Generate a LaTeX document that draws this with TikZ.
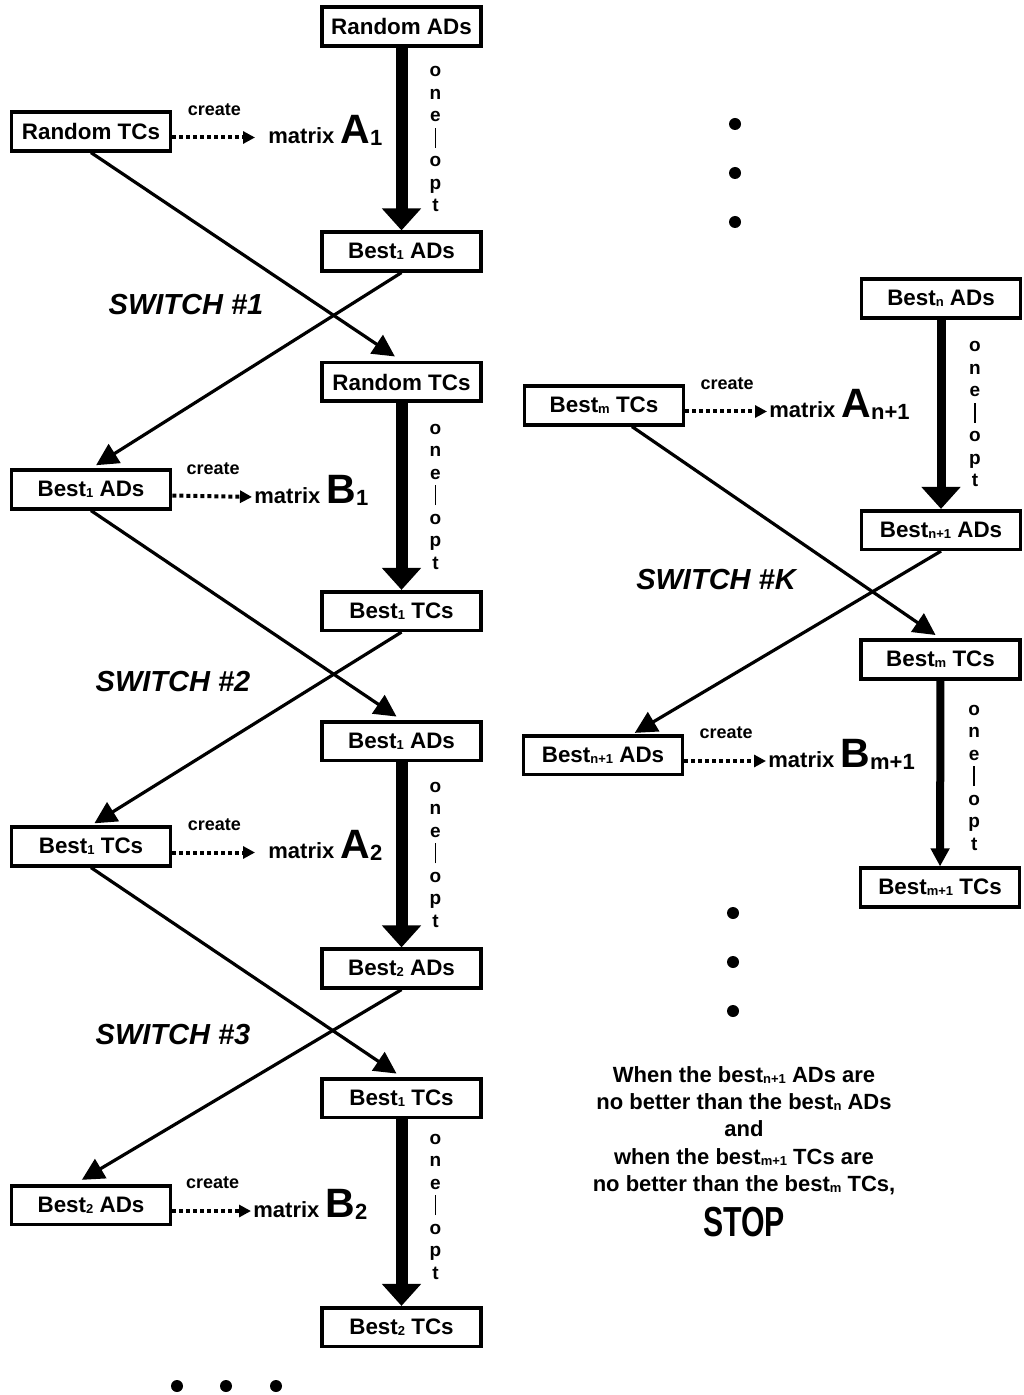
\documentclass[tikz,border=0pt]{standalone}
\usepackage{fontspec}
\setmainfont{Liberation Sans}
\usepackage{graphicx}
\usepackage{tikz}
\usetikzlibrary{arrows.meta}

\newcommand\lowsub[1]{\raisebox{-0.6pt}{\fontsize{6.5}{6.5}\selectfont #1}}
\newcommand\bigmat[2]{matrix {\fontsize{20.5}{20.5}\selectfont #1}\raisebox{-1.2pt}{\fontsize{11}{11}\selectfont #2}}
\newcommand\oneopt{o\\n\\e\\\rule[-1.75pt]{0.8pt}{10pt}\\o\\p\\t}

\begin{document}
\begin{tikzpicture}[x=0.5pt,y=-0.5pt,
  box/.style={draw=black,line width=1.8pt,fill=white,minimum width=79.5pt,minimum height=19.3pt,
              inner sep=0pt,font=\fontsize{11.2}{13}\selectfont\bfseries},
  opt/.style={-{Triangle[length=11pt,width=19pt]},line width=6pt,draw=black},
  diag/.style={-{Triangle[length=11pt,width=11pt]},line width=1.6pt,draw=black},
  dotarr/.style={-{Triangle[length=6pt,width=6pt]},line width=2pt,dash pattern=on 2pt off 1.5pt,shorten >=1pt},
  create/.style={font=\fontsize{9}{9}\selectfont\bfseries,inner sep=0pt},
  mat/.style={font=\fontsize{11}{13}\selectfont\bfseries,inner sep=0pt,anchor=base west},
  onelbl/.style={font=\fontsize{9.5}{11.25}\selectfont\bfseries,align=center,inner sep=0pt},
  switch/.style={font=\fontsize{14.5}{16}\selectfont\bfseries\itshape,inner sep=0pt}
]
\useasboundingbox (0,0) rectangle (1023,1395);

% left chain
\node[box] (ad0) at (401.5,26.5) {Random ADs};
\node[box] (tc0) at (91,131.5) {Random TCs};
\node[box] (ad1) at (401.5,251.5) {Best\lowsub{1} ADs};
\node[box] (tc1) at (401.5,382) {Random TCs};
\node[box] (ad1l) at (91,489.5) {Best\lowsub{1} ADs};
\node[box] (tc2) at (401.5,611) {Best\lowsub{1} TCs};
\node[box] (ad2) at (401.5,741) {Best\lowsub{1} ADs};
\node[box] (tc2l) at (91,846.5) {Best\lowsub{1} TCs};
\node[box] (ad3) at (401.5,968.5) {Best\lowsub{2} ADs};
\node[box] (tc3) at (401.5,1098) {Best\lowsub{1} TCs};
\node[box] (ad3l) at (91,1205) {Best\lowsub{2} ADs};
\node[box] (tc4) at (401.5,1327) {Best\lowsub{2} TCs};

% right chain
\node[box] (adn) at (941,298.5) {Best\lowsub{n} ADs};
\node[box] (tcm) at (604,405.5) {Best\lowsub{m} TCs};
\node[box] (adn1) at (941,530) {Best\lowsub{n+1} ADs};
\node[box] (tcm2) at (940.5,659.5) {Best\lowsub{m} TCs};
\node[box] (adn1l) at (603,755) {Best\lowsub{n+1} ADs};
\node[box] (tcm1) at (940,887.5) {Best\lowsub{m+1} TCs};

% matrices
\node[mat] (mA1) at (268,143.5) {\bigmat{A}{1}};
\node[mat] (mB1) at (254,503) {\bigmat{B}{1}};
\node[mat] (mA2) at (268,858.5) {\bigmat{A}{2}};
\node[mat] (mB2) at (253,1217) {\bigmat{B}{2}};
\node[mat] (mAn) at (769,417.5) {\bigmat{A}{n+1}};
\node[mat] (mBm) at (768,767) {\bigmat{B}{m+1}};

\node[switch] (sw1) at (186,305) {SWITCH \#1};
\node[switch] (sw2) at (173,682) {SWITCH \#2};
\node[switch] (sw3) at (173,1035) {SWITCH \#3};
\node[switch] (swk) at (716,580) {SWITCH \#K};

\node[font=\fontsize{11}{13.65}\selectfont\bfseries,align=center,inner sep=0pt,anchor=north] (stop) at (744,1066)
  {When the best\lowsub{n+1} ADs are\\no better than the best\lowsub{n} ADs\\and\\
   when the best\lowsub{m+1} TCs are\\no better than the best\lowsub{m} TCs,\\[5pt]
   \scalebox{0.72}[1]{\fontsize{21}{21}\selectfont STOP}};

% one-opt steps
\draw[opt] (ad0) -- (ad1) node[onelbl,midway,xshift=17pt] (o1) {\oneopt};
\draw[opt] (tc1) -- (tc2) node[onelbl,midway,xshift=17pt] (o2) {\oneopt};
\draw[opt] (ad2) -- (ad3) node[onelbl,midway,xshift=17pt] (o3) {\oneopt};
\draw[opt] (tc3) -- (tc4) node[onelbl,midway,xshift=17pt,yshift=3pt] (o4) {\oneopt};
\draw[opt,line width=4.5pt] (adn) -- (adn1) node[onelbl,midway,xshift=17pt] (o5) {\oneopt};
\draw[opt,line width=4pt,-{Triangle[length=9pt,width=9pt]}] (tcm2) -- (tcm1) node[onelbl,midway,xshift=17pt,yshift=-2pt] (o6) {\oneopt};

% switches
\draw[diag,shorten >=4pt] (tc0.south) -- (tc1.north);
\draw[diag,shorten >=3pt] (ad1.south) -- (ad1l.north);
\draw[diag,shorten >=3pt] (ad1l.south) -- (ad2.north);
\draw[diag,shorten >=2pt] (tc2.south) -- (tc2l.north);
\draw[diag,shorten >=3pt] (tc2l.south) -- (tc3.north);
\draw[diag,shorten >=4pt] (ad3.south) -- ([xshift=-8pt]ad3l.north);
\draw[diag,shorten >=3pt] ([xshift=14pt]tcm.south) -- (tcm2.north);
\draw[diag,shorten >=1pt] (adn1.south) -- ([xshift=15pt]adn1l.north);

% create
\draw[dotarr,shorten >=6.5pt] ([yshift=-3pt]tc0.east) -- ([yshift=3pt]mA1.base west)
  node[create,pos=0.44,above=10pt] (cr1) {create};
\draw[dotarr] ([yshift=-3pt]ad1l.east) -- ([yshift=3pt]mB1.base west)
  node[create,midway,above=10pt] (cr2) {create};
\draw[dotarr,shorten >=6.5pt] ([yshift=-3pt]tc2l.east) -- ([yshift=3pt]mA2.base west)
  node[create,pos=0.44,above=10pt] (cr3) {create};
\draw[dotarr] ([yshift=-3pt]ad3l.east) -- ([yshift=3pt]mB2.base west)
  node[create,midway,above=10pt] (cr4) {create};
\draw[dotarr] ([yshift=-3pt]tcm.east) -- ([yshift=3pt]mAn.base west)
  node[create,midway,above=10pt] (cr5) {create};
\draw[dotarr] ([yshift=-3pt]adn1l.east) -- ([yshift=3pt]mBm.base west)
  node[create,midway,above=10pt] (cr6) {create};

% dots
\foreach \y in {124,173,222} \fill (735,\y) circle (3pt);
\foreach \y in {913,962,1011} \fill (733,\y) circle (3pt);
\foreach \x in {177,226,276} \fill (\x,1386) circle (3pt);
\end{tikzpicture}
\end{document}
